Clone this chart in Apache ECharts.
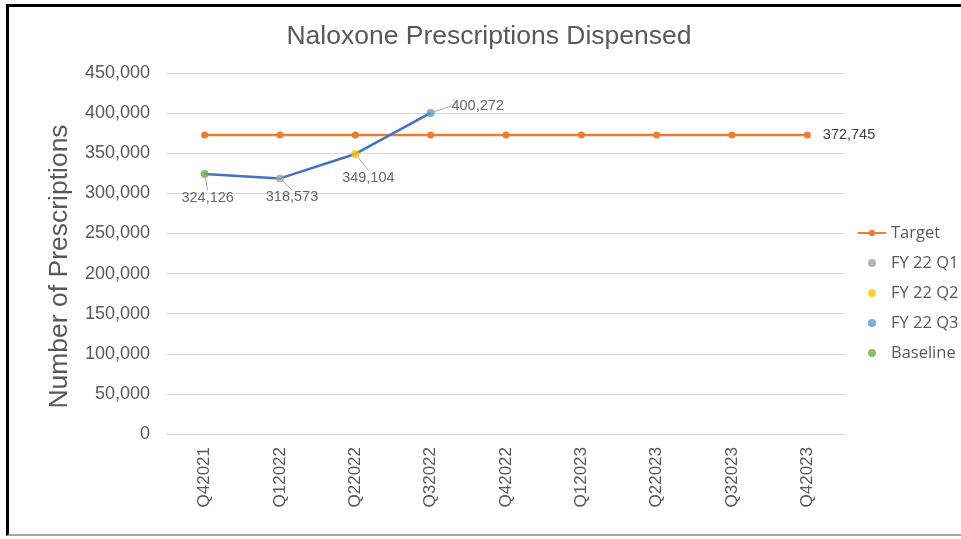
<!DOCTYPE html>
<html>
<head>
<meta charset="utf-8">
<script src="https://cdn.jsdelivr.net/npm/echarts@6/dist/echarts.min.js"></script>
<style>
  html, body { margin: 0; padding: 0; background: #fff; }
  #frame { position: absolute; left: 6px; top: 4px; width: 955px; height: 532px;
           border-left: 3px solid #000; border-top: 3px solid #000; border-bottom: 2px solid #a6a6a6;
           box-sizing: border-box; }
  #chart { position: absolute; left: 0; top: 0; width: 961px; height: 539px; }
</style>
</head>
<body>
<div id="frame"></div>
<div id="chart"></div>
<script>
// Quarterly naloxone prescriptions dispensed vs. target
const quarters = ['Q42021', 'Q12022', 'Q22022', 'Q32022', 'Q42022', 'Q12023', 'Q22023', 'Q32023', 'Q42023'];
const targetValues = [372745, 372745, 372745, 372745, 372745, 372745, 372745, 372745, 372745];
const actualValues = [324126, 318573, 349104, 400272, null, null, null, null, null];
const yTicks = [0, 50000, 100000, 150000, 200000, 250000, 300000, 350000, 400000, 450000];

const FONT = 'Liberation Sans, Arial, sans-serif';

// Each reported quarter is its own legend entry with its own marker colour
const periods = [
  { name: 'Baseline', index: 0, color: '#70AD47', dx: 3, dy: 24 },
  { name: 'FY 22 Q1', index: 1, color: '#A5A5A5', dx: 12, dy: 19 },
  { name: 'FY 22 Q2', index: 2, color: '#FFC000', dx: 13, dy: 24 },
  { name: 'FY 22 Q3', index: 3, color: '#5B9BD5', dx: 47, dy: -7 }
];

const fmt = v => Number(v).toLocaleString('en-US');
const chart = echarts.init(document.getElementById('chart'), null, { renderer: 'canvas' });

const pointSeries = periods.map(p => ({
  name: p.name,
  type: 'scatter',
  z: 5,
  symbol: 'circle',
  symbolSize: 8,
  itemStyle: { color: p.color },
  data: quarters.map((q, i) => i === p.index ? actualValues[i] : null),
  label: {
    show: true, position: 'inside', color: '#404040', fontSize: 14.5, fontFamily: FONT,
    formatter: o => fmt(o.value)
  },
  labelLayout: { dx: p.dx, dy: p.dy, hideOverlap: false },
  labelLine: { show: true, lineStyle: { color: '#a6a6a6', width: 1 } }
}));

chart.setOption({
  animation: false,
  backgroundColor: 'transparent',
  title: {
    text: 'Naloxone Prescriptions Dispensed', left: 484, top: 18, textAlign: 'center',
    textStyle: { color: '#595959', fontSize: 26.5, fontWeight: 'normal', fontFamily: FONT }
  },
  grid: { left: 167, right: 116, top: 73, bottom: 105, containLabel: false },
  legend: {
    orient: 'vertical', left: 852, top: 219, itemGap: 12, itemWidth: 28, itemHeight: 8,
    textStyle: { color: '#595959', fontSize: 16.5, lineHeight: 18, fontFamily: 'Open Sans, Lato, sans-serif' },
    data: [
      { name: 'Target' },
      { name: 'FY 22 Q1', icon: 'circle' },
      { name: 'FY 22 Q2', icon: 'circle' },
      { name: 'FY 22 Q3', icon: 'circle' },
      { name: 'Baseline', icon: 'circle' }
    ]
  },
  xAxis: {
    type: 'category', data: quarters, boundaryGap: true,
    axisLine: { show: true, lineStyle: { color: '#d9d9d9' } },
    axisTick: { show: false },
    axisLabel: { rotate: 90, margin: 13, color: '#595959', fontSize: 17, fontFamily: FONT }
  },
  yAxis: {
    type: 'value', min: yTicks[0], max: yTicks[yTicks.length - 1], interval: yTicks[1] - yTicks[0],
    name: 'Number of Prescriptions', nameLocation: 'middle', nameGap: 94, nameRotate: 90,
    nameTextStyle: { color: '#595959', fontSize: 26.5, fontFamily: FONT, padding: [0, 26, 0, 0] },
    axisLine: { show: false }, axisTick: { show: false },
    splitLine: { lineStyle: { color: '#d9d9d9' } },
    axisLabel: { color: '#595959', fontSize: 18, margin: 17, fontFamily: FONT, formatter: v => fmt(v) }
  },
  series: [
    {
      name: 'Target', type: 'line', data: targetValues, z: 3,
      color: '#ED7D31',
      lineStyle: { color: '#ED7D31', width: 2.5 },
      symbol: 'circle', symbolSize: 7,
      itemStyle: { color: '#ED7D31' },
      label: {
        show: true, position: 'right', distance: 12, color: '#404040', fontSize: 14.5, fontFamily: FONT,
        formatter: o => o.dataIndex === quarters.length - 1 ? fmt(o.value) : ''
      }
    },
    {
      name: 'Actual', type: 'line', data: actualValues, z: 4,
      lineStyle: { color: '#4472C4', width: 2.5 },
      itemStyle: { color: '#4472C4' },
      symbol: 'none', smooth: false
    },
    ...pointSeries
  ]
});
</script>
</body>
</html>
